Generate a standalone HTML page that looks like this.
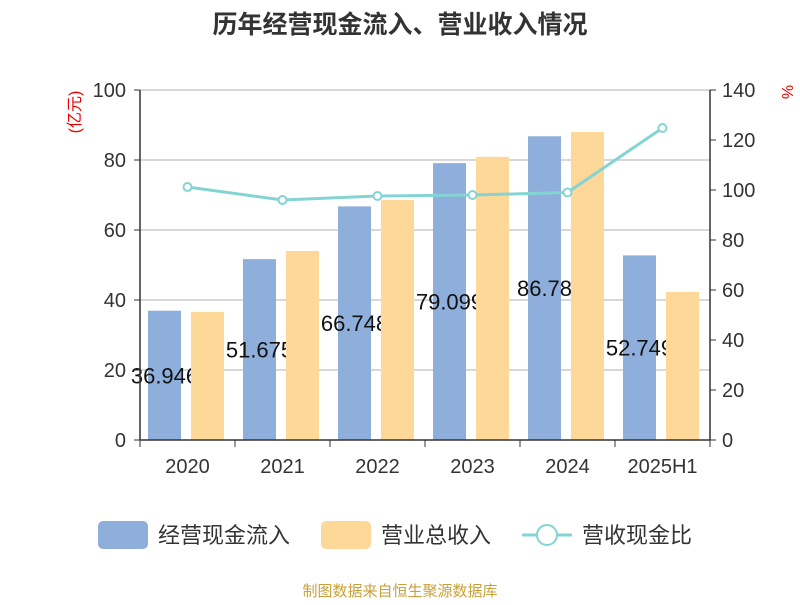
<!DOCTYPE html>
<html><head><meta charset="utf-8"><style>
body{margin:0;background:#fff;}
svg text{font-family:"Liberation Sans","Noto Sans CJK SC",sans-serif;}
</style></head><body>
<svg width="800" height="600" xmlns="http://www.w3.org/2000/svg">
<text x="400" y="33" text-anchor="middle" font-size="25" font-weight="bold" fill="#333">历年经营现金流入、营业收入情况</text>
<g id="grid"></g><g id="bars"></g><g id="axes"></g><g id="line"></g>
<text transform="translate(80,112) rotate(-90)" text-anchor="middle" font-size="16" fill="#e00">(亿元)</text>
<text transform="translate(782,92) rotate(90)" text-anchor="middle" font-size="16" fill="#e00">%</text>
<g>
<rect x="98" y="521" width="50" height="28" rx="5" fill="#8eaedb"/>
<text x="158" y="543" font-size="22" fill="#333">经营现金流入</text>
<rect x="321" y="521" width="50" height="28" rx="5" fill="#fed899"/>
<text x="381" y="543" font-size="22" fill="#333">营业总收入</text>
<line x1="522" y1="535" x2="572" y2="535" stroke="#84d4d4" stroke-width="3"/>
<circle cx="547" cy="535" r="10" fill="#fff" stroke="#84d4d4" stroke-width="2"/>
<text x="582" y="543" font-size="22" fill="#333">营收现金比</text>
</g>
<text x="400" y="596" text-anchor="middle" font-size="15" fill="#c9a13b">制图数据来自恒生聚源数据库</text>
</svg>
<script>
const categories=["2020","2021","2022","2023","2024","2025H1"];
const cashInflow=[36.946,51.675,66.748,79.099,86.78,52.749];
const cashLabels=["36.946","51.675","66.748","79.099","86.78","52.749"];
const revenue=[36.6,54.0,68.6,80.9,88.0,42.3];
const ratio=[101.2,96.0,97.6,98.0,99.0,124.8];
const leftTicks=[0,20,40,60,80,100];
const rightTicks=[0,20,40,60,80,100,120,140];
const NS="http://www.w3.org/2000/svg";
const X0=140,X1=710,Y0=440,Y1=90;
const bw=(X1-X0)/categories.length;
const yL=v=>Y0-(v/100)*(Y0-Y1);
const yR=v=>Y0-(v/140)*(Y0-Y1);
const cx=i=>X0+bw*(i+0.5);
function mk(t,a,p){const e=document.createElementNS(NS,t);for(const k in a)e.setAttribute(k,a[k]);document.getElementById(p).appendChild(e);return e;}
leftTicks.forEach(v=>{
 if(v>0){const g=mk("line",{x1:X0,x2:X1,y1:yL(v),y2:yL(v),stroke:"#ccc","stroke-width":1.5},"grid");
 
 }
 const t=mk("line",{x1:X0-6,x2:X0,y1:yL(v),y2:yL(v),stroke:"#333"},"axes");
 
 
 const l=mk("text",{x:X0-14,y:yL(v)+7,"text-anchor":"end","font-size":20,fill:"#333"},"axes");l.textContent=v;
 
 
});
rightTicks.forEach(v=>{
 const t=mk("line",{x1:X1,x2:X1+6,y1:yR(v),y2:yR(v),stroke:"#333"},"axes");
 
 
 const l=mk("text",{x:X1+12,y:yR(v)+7,"font-size":20,fill:"#333"},"axes");l.textContent=v;
 
 
});
let a=mk("line",{x1:X0,x2:X0,y1:Y1,y2:Y0,stroke:"#333","stroke-width":1.5},"axes");


a=mk("line",{x1:X1,x2:X1,y1:Y1,y2:Y0,stroke:"#333","stroke-width":1.5},"axes");


a=mk("line",{x1:X0,x2:X1,y1:Y0,y2:Y0,stroke:"#333","stroke-width":1.5},"axes");


for(let i=0;i<=categories.length;i++){
 const t=mk("line",{x1:X0+bw*i,x2:X0+bw*i,y1:Y0,y2:Y0+7,stroke:"#333"},"axes");
 
 
}
categories.forEach((c,i)=>{
 const l=mk("text",{x:cx(i),y:Y0+33,"text-anchor":"middle","font-size":20,fill:"#333"},"axes");l.textContent=c;
 
 
 const b=mk("rect",{x:cx(i)-39.5,y:yL(cashInflow[i]),width:33,height:Y0-yL(cashInflow[i]),fill:"#8eaedb"},"bars");
 
 
 const lb=mk("text",{x:cx(i)-23,y:(yL(cashInflow[i])+Y0)/2+8,"text-anchor":"middle","font-size":22,fill:"#111"},"bars");lb.textContent=cashLabels[i];
 
 
});
categories.forEach((c,i)=>{
 const b=mk("rect",{x:cx(i)+3.5,y:yL(revenue[i]),width:33,height:Y0-yL(revenue[i]),fill:"#fed899"},"bars");
 
 
});
const pl=mk("polyline",{points:ratio.map((v,i)=>cx(i)+","+yR(v)).join(" "),fill:"none",stroke:"#84d4d4","stroke-width":3},"line");


ratio.forEach((v,i)=>{
 const p=mk("circle",{cx:cx(i),cy:yR(v),r:4,fill:"#fff",stroke:"#84d4d4","stroke-width":2},"line");
 
 
});
</script>
</body></html>
